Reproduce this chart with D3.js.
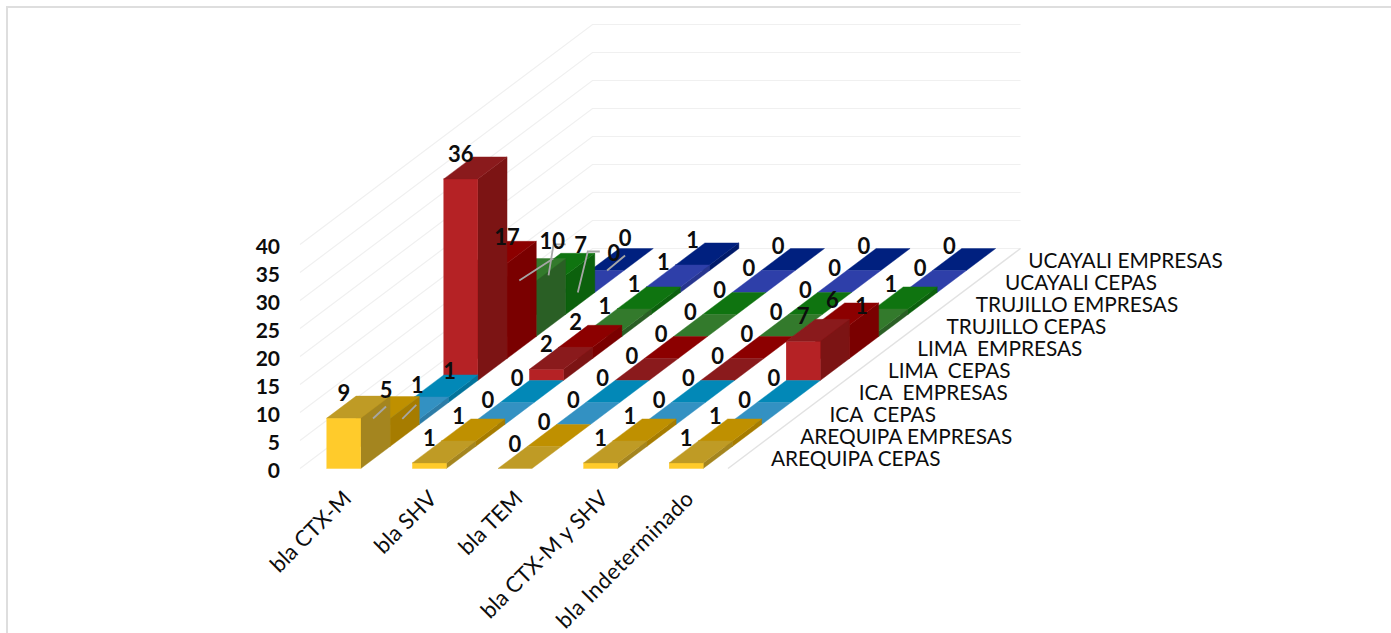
<!DOCTYPE html>
<html>
<head>
<meta charset="utf-8">
<script src="https://cdn.jsdelivr.net/npm/d3@7/dist/d3.min.js"></script>
<style>
  html, body { margin: 0; padding: 0; background: #fff; }
  svg { display: block; }
  text { font-family: Lato, "Open Sans", sans-serif; fill: #0d0d0d; white-space: pre; }
</style>
</head>
<body>
<svg id="chart" width="1391" height="633"></svg>
<script>
// Beta-lactamase genes by site and sample type
const categories = ["bla CTX-M", "bla SHV", "bla TEM", "bla CTX-M y SHV", "bla Indeterminado"];
const seriesNames = [
  "AREQUIPA CEPAS", "AREQUIPA EMPRESAS", "ICA  CEPAS", "ICA  EMPRESAS", "LIMA  CEPAS",
  "LIMA  EMPRESAS", "TRUJILLO CEPAS", "TRUJILLO EMPRESAS", "UCAYALI CEPAS", "UCAYALI EMPRESAS"
];
const arequipaCepas     = [9, 1, 0, 1, 1];
const arequipaEmpresas  = [5, 1, 0, 1, 1];
const icaCepas          = [1, 0, 0, 0, 0];
const icaEmpresas       = [1, 0, 0, 0, 0];
const limaCepas         = [36, 2, 0, 0, 7];
const limaEmpresas      = [17, 2, 0, 0, 6];
const trujilloCepas     = [10, 1, 0, 0, 1];
const trujilloEmpresas  = [7, 1, 0, 0, 1];
const ucayaliCepas      = [0, 1, 0, 0, 0];
const ucayaliEmpresas   = [0, 1, 0, 0, 0];
const seriesValues = [
  arequipaCepas, arequipaEmpresas, icaCepas, icaEmpresas, limaCepas,
  limaEmpresas, trujilloCepas, trujilloEmpresas, ucayaliCepas, ucayaliEmpresas
];
const valueTicks = [0, 5, 10, 15, 20, 25, 30, 35, 40];

// Face colours per series, front to back
const faces = [
  { front: "#ffcb2b", top: "#bf9b25", side: "#a4851f" },
  { front: "#bf9000", top: "#bf9000", side: "#a67c00" },
  { front: "#3a93c4", top: "#3391c2", side: "#2c7ca7" },
  { front: "#0288b7", top: "#0288b7", side: "#02739b" },
  { front: "#b52225", top: "#8a1a1c", side: "#7c1414" },
  { front: "#8c0000", top: "#8c0000", side: "#7a0000" },
  { front: "#2d6a27", top: "#337a2c", side: "#2a5f25" },
  { front: "#0f7410", top: "#0f7410", side: "#0c610d" },
  { front: "#2e3fa9", top: "#2e3fa9", side: "#27358f" },
  { front: "#00207f", top: "#00207f", side: "#001a6a" }
];

// Oblique projection: category runs across, series runs into the page
const floorLeft = 300, floorRight = 728, floorBaseY = 468.5;
const depthDx = 29.25, depthDy = -22;
const barWidth = 34;
const x = d3.scaleBand().domain(d3.range(categories.length)).range([floorLeft, floorRight]).paddingInner(0);
const height = d3.scaleLinear().domain([0, 40]).range([0, 224]);
const y = d3.scaleLinear().domain([0, 40]).range([floorBaseY, floorBaseY - 224]);
const depth = d3.scaleLinear().domain([0, seriesNames.length]);
const dxAt = depth.copy().range([0, depthDx * seriesNames.length]);
const dyAt = depth.copy().range([0, depthDy * seriesNames.length]);

const barLeft = c => x(c) + (x.bandwidth() - barWidth) / 2 + 1;
const pt = (px, py) => `${px},${py}`;

const svg = d3.select("#chart");

// Outer chart frame
svg.append("path")
  .attr("d", "M1391,7H7V633")
  .attr("fill", "none").attr("stroke", "#dedede").attr("stroke-width", 2);

// Walls and floor edge
const wallDx = dxAt(seriesNames.length), wallDy = dyAt(seriesNames.length);
const grid = svg.append("g").attr("fill", "none").attr("stroke", "#f0f0f0").attr("stroke-width", 1.2);
grid.selectAll("path").data(valueTicks).join("path")
  .attr("d", t => `M${floorLeft},${y(t)}L${floorLeft + wallDx},${y(t) + wallDy}L${floorRight + wallDx},${y(t) + wallDy}`);
svg.append("line")
  .attr("x1", floorRight).attr("y1", floorBaseY)
  .attr("x2", floorRight + wallDx).attr("y2", floorBaseY + wallDy)
  .attr("stroke", "#e2e2e2").attr("stroke-width", 1.5);

// Bars, painted from the back row forward
const bars = svg.append("g");
d3.range(seriesNames.length).reverse().forEach(s => {
  const f = faces[s];
  const rowSpan = [dxAt(s), dyAt(s), dxAt(s + 1), dyAt(s + 1)];
  const g = bars.append("g");
  const cols = g.selectAll("g").data(seriesValues[s]).join("g");
  cols.each(function (v, c) {
    const sel = d3.select(this);
    const x0 = barLeft(c) + rowSpan[0], x1 = x0 + barWidth;
    const base = floorBaseY + rowSpan[1];
    const h = height(v);
    const ddx = rowSpan[2] - rowSpan[0], ddy = rowSpan[3] - rowSpan[1];
    const top = base - h;
    if (h > 0) {
      sel.append("polygon").attr("fill", f.side).attr("stroke", f.side).attr("stroke-width", 0.4)
        .attr("points", [pt(x1, base), pt(x1 + ddx, base + ddy), pt(x1 + ddx, top + ddy), pt(x1, top)].join(" "));
      sel.append("rect").attr("fill", f.front).attr("stroke", f.front).attr("stroke-width", 0.4)
        .attr("x", x0).attr("y", top).attr("width", barWidth).attr("height", h);
    }
    sel.append("polygon").attr("fill", f.top).attr("stroke", f.top).attr("stroke-width", 0.4)
      .attr("points", [pt(x0, top), pt(x1, top), pt(x1 + ddx, top + ddy), pt(x0 + ddx, top + ddy)].join(" "));
  });
});

// Value axis
const yAxis = d3.axisLeft(y).tickValues(valueTicks).tickSize(0).tickPadding(0);
const yG = svg.append("g").attr("transform", "translate(280,2)").call(yAxis);
yG.select(".domain").remove();
yG.selectAll("text").attr("font-size", 21).attr("font-weight", 700).style("font-family", "Lato, sans-serif");

// Category axis with slanted labels
const xAxis = d3.axisBottom(x).tickFormat(i => categories[i]).tickSize(0);
const xG = svg.append("g").attr("transform", "translate(0,468)").call(xAxis);
xG.select(".domain").remove();
xG.selectAll("text")
  .attr("font-size", 22).attr("text-anchor", "end").attr("dy", null).attr("y", 0)
  .attr("letter-spacing", (d, i) => (i === 4 ? 0.5 : 0))
  .attr("transform", "translate(10,32) rotate(-45)")
  .style("font-family", "Lato, sans-serif");

// Series names stepping up along the floor edge
svg.append("g").selectAll("text").data(seriesNames).join("text")
  .attr("x", (d, i) => 771 + dxAt(i) - (i === 9 ? 6 : 0))
  .attr("y", (d, i) => 466 + dyAt(i))
  .attr("font-size", 20.8)
  .text(d => d);

// Leader lines for value labels moved clear of their bars
const anchorOf = (s, c) => [
  barLeft(c) + barWidth / 2 + dxAt(s),
  floorBaseY + dyAt(s) - height(seriesValues[s][c])
];
const leaders = [
  { s: 1, c: 0, via: [[13, -12]] },
  { s: 2, c: 0, via: [[14, -14]] },
  { s: 6, c: 0, via: [[34, -22]] },
  { s: 7, c: 0, via: [[5, -31], [17, -31]] },
  { s: 8, c: 0, via: [[10, -41], [22, -41]] },
  { s: 9, c: 0, via: [[18, -15]] }
];
svg.append("g").selectAll("polyline").data(leaders).join("polyline")
  .attr("fill", "none").attr("stroke", "#a6a6a6").attr("stroke-width", 1.8)
  .attr("points", d => {
    const [ax, ay] = anchorOf(d.s, d.c);
    return [pt(ax, ay), ...d.via.map(o => pt(ax + o[0], ay + o[1]))].join(" ");
  });

// Value labels; a few sit away from their default spot above the bar
const labelShift = {
  "1,0": [13, -4], "2,0": [15, -9], "3,0": [18, -1], "5,0": [17, -1],
  "6,0": [33, -15], "7,0": [32, -5], "8,0": [36, -15], "9,0": [18, -8]
};
const labels = svg.append("g");
seriesValues.forEach((vals, s) => vals.forEach((v, c) => {
  const [ax, ay] = anchorOf(s, c);
  const shift = labelShift[s + "," + c] || [0, 0];
  labels.append("text")
    .attr("x", ax + shift[0]).attr("y", ay - 25 + shift[1] + 8)
    .attr("text-anchor", "middle")
    .attr("font-size", 22).attr("font-weight", 700)
    .text(v);
}));
</script>
</body>
</html>
